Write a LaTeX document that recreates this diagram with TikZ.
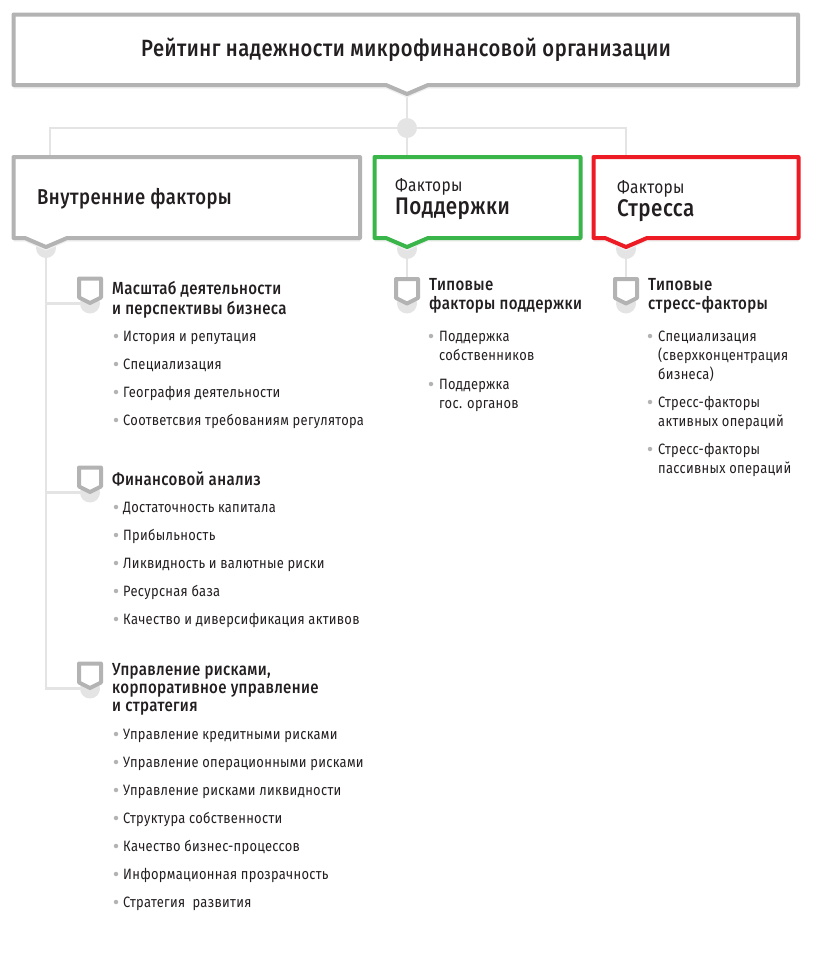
\documentclass[tikz,border=0pt]{standalone}
\usepackage{fontspec}
\setmainfont{Fira Sans}[FakeStretch=0.86,LetterSpace=2,BoldFont={Fira Sans Medium},BoldFeatures={FakeStretch=0.86,LetterSpace=2}]
\usetikzlibrary{calc, positioning}

\definecolor{tagGrey}{HTML}{B3B3B3}
\definecolor{tagGreen}{HTML}{39B54A}
\definecolor{tagRed}{HTML}{ED1C24}
\definecolor{wireGrey}{HTML}{E4E4E4}
\definecolor{inkBlack}{HTML}{231F20}

\tikzset{
    tagbox/.style={anchor=north west, inner sep=0pt, outer sep=0pt},
    junction/.style={circle, fill=wireGrey, inner sep=0pt, outer sep=0pt, minimum size=#1},
    junction/.default=20pt,
    wire/.style={draw=wireGrey, line width=2.2pt},
    headtext/.style={anchor=north west, inner sep=0pt, align=left, yshift=7.5pt, text=inkBlack,
        font=\fontsize{17.5}{18}\selectfont\bfseries},
    itemtext/.style={anchor=north west, inner sep=0pt, align=left, yshift=7.7pt, text=inkBlack,
        font=\fontsize{15}{19}\selectfont},
    itemdot/.style={circle, fill=tagGrey, inner sep=0pt, minimum size=4.5pt}
}

% pointed outline round a box node, tip at the given x
\newcommand{\tagoutline}[3]{
    \coordinate (#1 tip) at (#2,0 |- #1.south);
    \path[fill=wireGrey!60, draw=wireGrey!60, line width=3pt]
        ($(#1.south west)+(0,2)$) -- ($(#1 tip)+(-21,2)$) -- ($(#1 tip)+(0,11)$) -- ($(#1 tip)+(21,2)$) -- ($(#1.south east)+(0,2)$);
    \draw[draw=#3, fill=white, line width=4pt, line join=round]
        (#1.north west) -- (#1.north east) -- (#1.south east) -- ($(#1 tip)+(21,0)$)
        -- ($(#1 tip)+(0,9)$) -- ($(#1 tip)+(-21,0)$) -- (#1.south west) -- cycle;
}

% small pointed marker, its top left corner at the given point
\newcommand{\shieldmark}[2]{
    \draw[draw=tagGrey, fill=white, line width=4pt, line join=round]
        (#1,#2) -- ++(22,0) -- ++(0,19) -- ++(-11,5.5) -- ++(-11,-5.5) -- cycle;
}

% one bullet with its text
\newcommand{\bulletline}[5]{
    \node[itemdot] (#1 dot) at (#2,#3) {};
    \node[itemtext] (#1) at (#4,#3) {\strut #5};
}

\begin{document}
\begin{tikzpicture}[x=1pt, y=-1pt]
    \useasboundingbox (0,0) rectangle (813,953);

    % Boxes, only placed here: the outlines come after the wires
    \node[tagbox, minimum width=784.5pt, minimum height=70.5pt] (rating) at (13.5,14.5) {};
    \node[tagbox, minimum width=346.5pt, minimum height=81pt] (internal) at (13.5,157) {};
    \node[tagbox, minimum width=206pt, minimum height=81pt] (support) at (374.5,157) {};
    \node[tagbox, minimum width=205pt, minimum height=81pt] (stress) at (593.5,157) {};

    % Junctions
    \node[junction] (hub) at (407,128) {};
    \node[junction] (internalhub) at (46,248) {};
    \node[junction] (supporthub) at (407,249) {};
    \node[junction] (stresshub) at (626,249) {};
    \node[junction] (scalehub) at (90,303.5) {};
    \node[junction] (financehub) at (90,492.5) {};
    \node[junction] (riskhub) at (90,688.5) {};
    \node[junction] (typsupporthub) at (407,303.5) {};
    \node[junction] (typstresshub) at (626,303.5) {};

    % Wires
    \coordinate (internalin) at (50,157);
    \coordinate (supportin) at (407,157);
    \coordinate (stressin) at (626,157);
    \coordinate (ratingout) at (407,90);
    \draw[wire] (ratingout) -- (hub);
    \draw[wire] (hub) -- (supportin);
    \draw[wire] (hub) -| (internalin);
    \draw[wire] (hub) -| (stressin);
    \draw[wire] (internalhub) |- (riskhub);
    \draw[wire] (internalhub |- scalehub) -- (scalehub);
    \draw[wire] (internalhub |- financehub) -- (financehub);
    \draw[wire] (supporthub) -- (typsupporthub);
    \draw[wire] (stresshub) -- (typstresshub);

    % Outlines
    \tagoutline{rating}{407}{tagGrey}
    \tagoutline{internal}{46}{tagGrey}
    \tagoutline{support}{407}{tagGreen}
    \tagoutline{stress}{626}{tagRed}

    \shieldmark{79}{278.5}
    \shieldmark{79}{467.5}
    \shieldmark{79}{663.5}
    \shieldmark{396}{279}
    \shieldmark{615}{279}

    % Box titles
    \node[text=inkBlack, font=\fontsize{23.5}{28}\selectfont\bfseries] (ratinglabel) at (406,49.5) {Рейтинг надежности микрофинансовой организации};
    \node[anchor=west, inner sep=0pt, text=inkBlack, font=\fontsize{21.5}{24}\selectfont\bfseries] (internallabel) at (37,199) {Внутренние факторы};
    \node[anchor=west, inner sep=0pt, text=inkBlack, font=\fontsize{18}{20}\selectfont] (supportlabel) at (395,187) {Факторы};
    \node[anchor=west, inner sep=0pt, text=inkBlack, font=\fontsize{24}{26}\selectfont\bfseries] (supportname) at (395,209) {Поддержки};
    \node[anchor=west, inner sep=0pt, text=inkBlack, font=\fontsize{18}{20}\selectfont] (stresslabel) at (617,189) {Факторы};
    \node[anchor=west, inner sep=0pt, text=inkBlack, font=\fontsize{24}{26}\selectfont\bfseries] (stressname) at (617,211) {Стресса};

    % Group headings
    \node[headtext] (scalehead) at (112,289) {\strut Масштаб деятельности\\и перспективы бизнеса};
    \node[headtext] (financehead) at (112,479) {\strut Финансовой анализ};
    \node[headtext] (riskhead) at (112,670) {\strut Управление рисками,\\корпоративное управление\\и стратегия};
    \node[headtext] (typsupporthead) at (429,285) {\strut Типовые\\факторы поддержки};
    \node[headtext] (typstresshead) at (648,285) {\strut Типовые\\стресс-факторы};

    % Items of the first column
    \foreach \y/\itemlabel [count=\i] in {336/История и репутация, 364/Специализация, 392/География деятельности, 420/Соответсвия требованиям регулятора}
        {\bulletline{scale\i}{116}{\y}{123}{\itemlabel}}
    \foreach \y/\itemlabel [count=\i] in {507/Достаточность капитала, 535/Прибыльность, 563/Ликвидность и валютные риски, 591/Ресурсная база, 619/Качество и диверсификация активов}
        {\bulletline{finance\i}{116}{\y}{123}{\itemlabel}}
    \foreach \y/\itemlabel [count=\i] in {734/Управление кредитными рисками, 762/Управление операционными рисками, 790/Управление рисками ликвидности, 818/Структура собственности, 846/Качество бизнес-процессов, 874/Информационная прозрачность, 902/Стратегия\ \ развития}
        {\bulletline{risk\i}{116}{\y}{123}{\itemlabel}}

    % Items of the other two columns
    \bulletline{owners}{431}{336}{439}{Поддержка\\собственников}
    \bulletline{state}{431}{384}{439}{Поддержка\\гос. органов}
    \bulletline{focus}{650}{336}{658}{Специализация\\(сверхконцентрация\\бизнеса)}
    \bulletline{active}{650}{402}{658}{Стресс-факторы\\активных операций}
    \bulletline{passive}{650}{449}{658}{Стресс-факторы\\пассивных операций}
\end{tikzpicture}
\end{document}
